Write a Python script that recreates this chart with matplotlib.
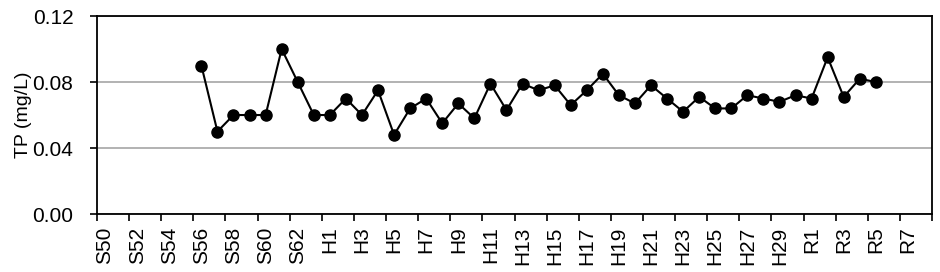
import numpy as np
import matplotlib
matplotlib.use("Agg")
import matplotlib.pyplot as plt

plt.rcParams['font.family'] = ['Liberation Sans', 'DejaVu Sans']

# Sites along the transect
sites = ([f"S{i}" for i in range(50, 64)] +
         [f"H{i}" for i in range(1, 31)] +
         [f"R{i}" for i in range(1, 9)])

# TP values (mg/L); sites S50-S55 and R6-R8 have no data
tp_s = [None] * 6 + [0.09, 0.05, 0.06, 0.06, 0.06, 0.10, 0.08, 0.06]
tp_h = [0.06, 0.07, 0.06, 0.075, 0.048, 0.064, 0.07, 0.055, 0.067, 0.058,
        0.079, 0.063, 0.079, 0.075, 0.078, 0.066, 0.075, 0.085, 0.072, 0.067,
        0.078, 0.07, 0.062, 0.071, 0.064, 0.064, 0.072, 0.07, 0.068, 0.072]
tp_r = [0.07, 0.095, 0.071, 0.082, 0.08, None, None, None]

tp = np.array([np.nan if v is None else v for v in tp_s + tp_h + tp_r])
x = np.arange(len(sites))

fig = plt.figure(figsize=(9.4, 2.72), dpi=100)
ax = fig.add_axes([0.1032, 0.2132, 0.8883, 0.7278])

ax.plot(x, tp, color='black', linewidth=1.5, marker='o', markersize=8,
        zorder=3)

ax.set_xlim(-0.5, len(sites) - 0.5)
ax.set_ylim(0, 0.12)
ax.set_yticks([0, 0.04, 0.08, 0.12])
ax.set_yticklabels(['0.00', '0.04', '0.08', '0.12'], fontsize=15)
ax.yaxis.grid(True, color='#a6a6a6', linewidth=1.2)
ax.set_axisbelow(True)

# tick marks between categories, labels on every other category
ax.set_xticks(np.arange(-0.5, len(sites), 2))
ax.set_xticklabels([])
ax.set_xticks(x[::2], minor=True)
ax.set_xticklabels(sites[::2], minor=True, rotation=90, fontsize=15)
ax.tick_params(axis='x', which='minor', length=0, pad=9)
ax.tick_params(axis='y', which='major', pad=12)
ax.tick_params(axis='both', which='major', direction='out', length=5,
               width=1.2, colors='black')

ax.set_ylabel('TP (mg/L)', fontsize=14, labelpad=0)

for s in ax.spines.values():
    s.set_linewidth(1.3)

fig.savefig('out.png', dpi=100)
